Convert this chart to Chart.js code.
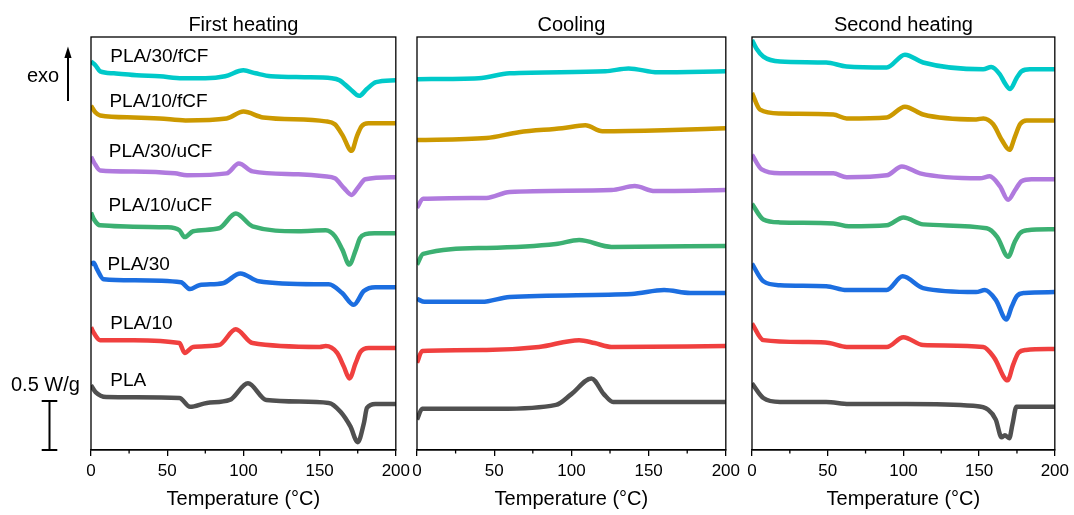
<!DOCTYPE html>
<html>
<head>
<meta charset="utf-8">
<script src="https://cdn.jsdelivr.net/npm/chart.js@4.4.1/dist/chart.umd.min.js"></script>
<style>
body { margin: 0; background: #fff; width: 1074px; height: 515px; position: relative; overflow: hidden; }
canvas { position: absolute; top: 0; }
</style>
</head>
<body>
<canvas id="first" width="415" height="515" style="left:0"></canvas>
<canvas id="cool" width="345" height="515" style="left:400px"></canvas>
<canvas id="second" width="339" height="515" style="left:735px"></canvas>
<script>
// DSC curves, [temperature °C, heat flow W/g with stacking offset], top sample first
const sampleNames = ['PLA/30/fCF', 'PLA/10/fCF', 'PLA/30/uCF', 'PLA/10/uCF', 'PLA/30', 'PLA/10', 'PLA'];
const colours = ['#00c9c9', '#cc9900', '#b07ade', '#3cb072', '#1c6ee0', '#f0403f', '#505050'];

// first heating
const h1_30fCF = [[0,3.96],[3,3.92],[6,3.86],[15,3.84],[30,3.82],[45,3.81],[60,3.79],[75,3.79],[88,3.81],[100,3.87],[108,3.84],[118,3.81],[140,3.80],[158,3.79],[163,3.77],[170,3.68],[176,3.61],[181,3.68],[187,3.75],[200,3.77]];
const h1_10fCF = [[0,3.51],[3,3.44],[6,3.41],[28,3.39],[45,3.38],[62,3.36],[89,3.38],[100,3.45],[113,3.39],[154,3.35],[160,3.32],[165,3.21],[171,3.05],[174.5,3.20],[177.5,3.30],[182,3.33],[200,3.33]];
const h1_30uCF = [[0,2.99],[2,2.93],[6,2.85],[28,2.84],[55,2.82],[63,2.80],[89,2.82],[97,2.92],[106,2.84],[136,2.81],[153,2.79],[160,2.77],[166,2.67],[171,2.60],[175,2.67],[180,2.76],[200,2.78]];
const h1_10uCF = [[0,2.42],[2,2.35],[6,2.29],[50,2.27],[58,2.24],[61.5,2.17],[67,2.23],[84,2.26],[95,2.41],[106,2.28],[136,2.23],[154,2.24],[160,2.18],[165,2.04],[169.5,1.89],[173.5,2.03],[176.5,2.16],[180,2.20],[186,2.21],[200,2.21]];
const h1_30 = [[0,1.89],[1.7,1.91],[4,1.84],[8.3,1.74],[28,1.73],[59,1.71],[65,1.64],[71,1.68],[86.5,1.70],[98,1.80],[110,1.72],[147,1.69],[156,1.69],[164.8,1.60],[172.4,1.48],[179,1.62],[186.6,1.66],[200,1.66]];
const h1_10 = [[0,1.25],[2,1.19],[6,1.12],[28,1.12],[58,1.09],[61.5,0.99],[67,1.05],[84,1.07],[95,1.23],[106,1.09],[150,1.05],[154,1.06],[161.5,0.99],[165.9,0.85],[169.6,0.73],[173.5,0.88],[176.8,1.00],[182.2,1.04],[200,1.04]];
const h1_PLA = [[0,0.66],[3,0.59],[10,0.54],[58,0.53],[65,0.44],[76,0.48],[91,0.51],[103,0.68],[115,0.51],[156,0.48],[163.7,0.39],[170.2,0.24],[175,0.08],[179,0.27],[181.1,0.43],[186.6,0.47],[200,0.47]];

// cooling
const c_30fCF = [[0,3.78],[40,3.79],[60,3.84],[122,3.86],[137,3.89],[156,3.85],[200,3.86]];
const c_10fCF = [[0,3.16],[45,3.18],[66,3.24],[94,3.28],[109,3.31],[120,3.25],[160,3.26],[200,3.28]];
const c_30uCF = [[0,2.47],[4,2.56],[45,2.57],[60,2.63],[126,2.65],[141,2.69],[154,2.64],[200,2.65]];
const c_10uCF = [[0,1.89],[4,2.00],[45,2.06],[90,2.10],[105,2.14],[126,2.07],[200,2.08]];
const c_30 = [[0,1.54],[5,1.51],[42,1.51],[60,1.56],[139,1.59],[160,1.63],[177,1.60],[200,1.60]];
const c_10 = [[0,0.89],[3.4,1.01],[45,1.02],[79,1.05],[105,1.12],[115,1.09],[126,1.05],[200,1.06]];
const c_PLA = [[0,0.31],[3.4,0.42],[53,0.42],[90,0.46],[100,0.57],[113,0.73],[121,0.57],[127,0.49],[200,0.49]];

// second heating
const h2_30fCF = [[0,4.18],[3,4.09],[7.5,4.01],[18.5,3.96],[49,3.95],[62.5,3.91],[89,3.90],[101,4.03],[113,3.95],[152.7,3.88],[158,3.905],[163.7,3.83],[167,3.74],[170.5,3.68],[174.7,3.79],[178,3.86],[183.5,3.88],[200,3.88]];
const h2_10fCF = [[0,3.64],[5.3,3.47],[18.5,3.43],[53.7,3.42],[62.5,3.38],[89,3.39],[101,3.50],[113,3.42],[148,3.37],[152.8,3.38],[159.3,3.32],[165,3.16],[170,3.06],[173.8,3.20],[177,3.32],[181.4,3.36],[200,3.36]];
const h2_30uCF = [[0,3.01],[6.4,2.86],[18.5,2.82],[53.7,2.82],[62.5,2.78],[89,2.80],[99,2.89],[111,2.82],[150.5,2.77],[157,2.79],[163.7,2.69],[169.2,2.55],[173.8,2.65],[178,2.74],[184.6,2.76],[200,2.76]];
const h2_10uCF = [[0,2.51],[7.5,2.35],[18.5,2.32],[53.7,2.31],[64,2.28],[89,2.29],[100,2.37],[113,2.30],[155,2.26],[162,2.17],[169.2,1.97],[173.5,2.12],[177,2.21],[182,2.24],[200,2.25]];
const h2_30 = [[0,1.90],[7.5,1.72],[18.5,1.68],[49,1.67],[62.5,1.63],[89,1.63],[99.5,1.77],[113,1.65],[148,1.61],[153.8,1.63],[161,1.53],[168,1.33],[171.5,1.46],[175,1.57],[180,1.60],[200,1.61]];
const h2_10 = [[0,1.29],[7.5,1.12],[36,1.10],[51,1.09],[62.5,1.05],[89,1.05],[100,1.15],[113,1.07],[152.7,1.05],[160,0.94],[168.8,0.71],[172.5,0.87],[176,0.99],[181,1.02],[200,1.03]];
const h2_PLA = [[0,0.68],[7.5,0.53],[18.5,0.49],[49,0.49],[64,0.47],[102,0.47],[146,0.45],[156,0.41],[161,0.31],[164.8,0.13],[167,0.15],[169.9,0.12],[172,0.26],[174.7,0.44],[200,0.44]];

const tempTicks = [0, 50, 100, 150, 200];
const minorTicks = [25, 75, 125, 175];
// where the sample names sit in the first-heating panel
const nameTemps = [12.6, 12.1, 11.7, 11.5, 10.8, 12.6, 12.6];
const nameLevels = [3.96, 3.50, 2.99, 2.44, 1.83, 1.23, 0.65];
const scaleBar = 0.5; // W/g

const FONT = '"Liberation Sans", Arial, sans-serif';

const frame = {
  id: 'frame',
  afterDatasetsDraw(chart, args, opts) {
    const { ctx, chartArea: a, scales: { x } } = chart;
    ctx.save();
    ctx.strokeStyle = '#000';
    ctx.lineWidth = 1.3;
    ctx.strokeRect(a.left, a.top, a.right - a.left, a.bottom - a.top);
    ctx.beginPath();
    minorTicks.forEach(t => {
      const px = x.getPixelForValue(t);
      ctx.moveTo(px, a.bottom);
      ctx.lineTo(px, a.bottom + 3.5);
    });
    ctx.stroke();
    ctx.fillStyle = '#000';
    ctx.font = '20px ' + FONT;
    ctx.textAlign = 'center';
    ctx.textBaseline = 'alphabetic';
    ctx.fillText(opts.title, (a.left + a.right) / 2, a.top - 6);
    ctx.restore();
  }
};

// sample names, exo arrow and the W/g bar beside the first panel
const annotations = {
  id: 'annotations',
  afterDraw(chart) {
    const { ctx, chartArea: a, scales: { x, y } } = chart;
    ctx.save();
    ctx.fillStyle = '#000';
    ctx.strokeStyle = '#000';
    ctx.font = '19px ' + FONT;
    ctx.textAlign = 'left';
    ctx.textBaseline = 'alphabetic';
    sampleNames.forEach((n, i) => {
      ctx.fillText(n, x.getPixelForValue(nameTemps[i]), y.getPixelForValue(nameLevels[i]));
    });

    ctx.font = '20px ' + FONT;
    ctx.fillText('exo', a.left - 64, 82);
    const ax = a.left - 23;
    ctx.lineWidth = 2;
    ctx.beginPath();
    ctx.moveTo(ax, 101);
    ctx.lineTo(ax, 56);
    ctx.stroke();
    ctx.beginPath();
    ctx.moveTo(ax, 46.5);
    ctx.lineTo(ax - 3.6, 58);
    ctx.lineTo(ax + 3.6, 58);
    ctx.closePath();
    ctx.fill();

    ctx.fillText('0.5 W/g', a.left - 80, 391);
    const bx = a.left - 41.5;
    const y0 = y.getPixelForValue(0);
    const y1 = y.getPixelForValue(scaleBar);
    ctx.beginPath();
    ctx.moveTo(bx, y0); ctx.lineTo(bx, y1);
    ctx.moveTo(bx - 7.8, y0); ctx.lineTo(bx + 7.8, y0);
    ctx.moveTo(bx - 7.8, y1); ctx.lineTo(bx + 7.8, y1);
    ctx.stroke();
    ctx.restore();
  }
};

function makeChart(id, series, title, padLeft, padRight, extra) {
  return new Chart(document.getElementById(id), {
    type: 'line',
    data: {
      datasets: series.map((s, i) => ({
        label: sampleNames[i],
        data: s.map(p => ({ x: p[0], y: p[1] })),
        borderColor: colours[i],
        borderWidth: 4.5,
        pointRadius: 0,
        cubicInterpolationMode: 'monotone',
        fill: false
      }))
    },
    options: {
      responsive: false,
      animation: false,
      events: [],
      layout: { padding: { left: padLeft, right: padRight, top: 37, bottom: 0 } },
      plugins: {
        legend: { display: false },
        tooltip: { enabled: false },
        frame: { title: title }
      },
      scales: {
        x: {
          type: 'linear',
          min: 0,
          max: 200,
          afterBuildTicks: s => { s.ticks = tempTicks.map(v => ({ value: v })); },
          ticks: { color: '#000', font: { family: FONT, size: 17 }, padding: 5, maxRotation: 0 },
          grid: { drawOnChartArea: false, drawTicks: true, tickLength: 6, color: '#000', lineWidth: 1.3 },
          border: { display: true, color: '#000', width: 1.3 },
          title: { display: true, text: 'Temperature (°C)', color: '#000', font: { family: FONT, size: 20 }, padding: { top: 0, bottom: 4 } },
          afterFit: s => { s.height = 65; }
        },
        y: { display: false, min: 0, max: 4.21 }
      }
    },
    plugins: extra ? [frame, extra] : [frame]
  });
}

makeChart('first', [h1_30fCF, h1_10fCF, h1_30uCF, h1_10uCF, h1_30, h1_10, h1_PLA], 'First heating', 91, 18, annotations);
makeChart('cool', [c_30fCF, c_10fCF, c_30uCF, c_10uCF, c_30, c_10, c_PLA], 'Cooling', 17, 17);
makeChart('second', [h2_30fCF, h2_10fCF, h2_30uCF, h2_10uCF, h2_30, h2_10, h2_PLA], 'Second heating', 17, 19);
</script>
</body>
</html>
